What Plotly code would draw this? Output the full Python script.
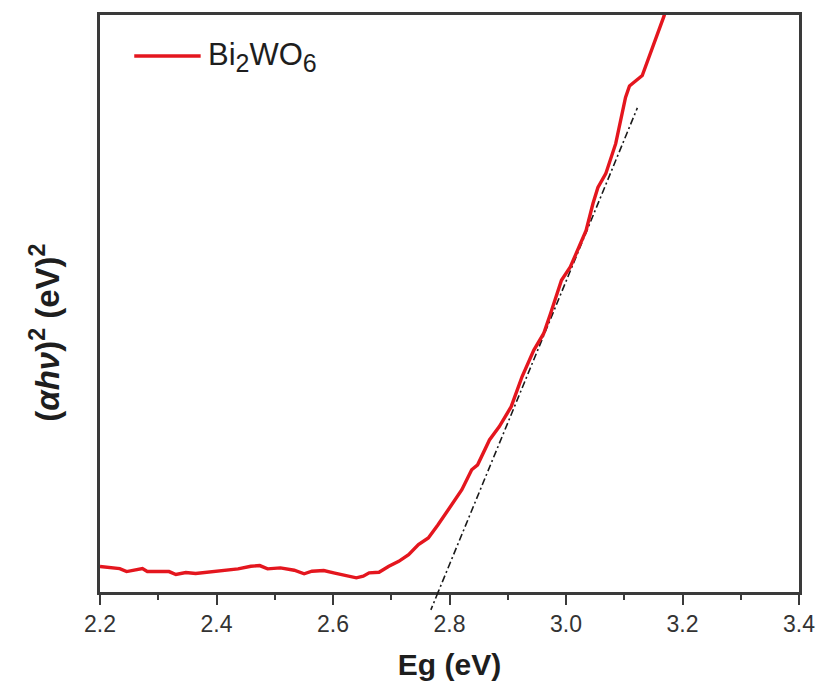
import plotly.graph_objects as go

# ---------------- data ----------------
energy_ev = [2.2000, 2.2339, 2.2457, 2.2626, 2.2728, 2.2812, 2.3185, 2.3303, 2.3473, 2.3642,
             2.3811, 2.4031, 2.4370, 2.4590, 2.4742, 2.4877, 2.5097, 2.5334, 2.5504, 2.5639,
             2.5842, 2.6011, 2.6198, 2.6401, 2.6519, 2.6621, 2.6790, 2.6959, 2.7129, 2.7298,
             2.7467, 2.7636, 2.7800, 2.7975, 2.8212, 2.8381, 2.8483, 2.8686, 2.8855, 2.9059,
             2.9245, 2.9448, 2.9617, 2.9735, 2.9922, 3.0074, 3.0345, 3.0463, 3.0548, 3.0683,
             3.0853, 3.1022, 3.1090, 3.1309, 3.1597, 3.1682, 3.1760]
absorb_sq = [4.41, 4.06, 3.54, 3.89, 4.06, 3.54, 3.54, 3.03, 3.37, 3.20,
             3.37, 3.60, 4.01, 4.46, 4.58, 4.01, 4.18, 3.77, 3.15, 3.60,
             3.72, 3.32, 2.85, 2.45, 2.73, 3.32, 3.42, 4.46, 5.32, 6.48,
             8.21, 9.37, 11.6, 14.26, 17.72, 21.18, 22.04, 26.36, 28.66, 32.12,
             37.30, 41.92, 44.81, 48.26, 54.02, 56.32, 62.66, 67.33, 70.10, 72.50,
             77.70, 85.70, 87.70, 89.50, 97.20, 99.80, 102.5]

# Tauc tangent line: x-intercept (band gap) and slope, end point of drawn segment
eg_intercept = 2.7806
tangent_slope = 245.4
tangent_end_x = 3.1225
tangent_ext_y = -3.1   # how far the dash-dot line extends below the axis (data units)

series_name = "Bi<sub><span style='font-size:25px'>2</span></sub>WO<sub><span style='font-size:25px'>6</span></sub>"
x_title = "Eg (eV)"
y_title = "(<i>αhν</i>)<sup>2</sup> (eV)<sup>2</sup>"
x_ticks = [2.2, 2.4, 2.6, 2.8, 3.0, 3.2, 3.4]
x_range = [2.2, 3.4]
y_range = [0, 100]

# ---------------- figure ----------------
font_family = "Arial, 'Liberation Sans', Helvetica, sans-serif"
axis_color = "#3a3a3a"
red = "#e4161e"

tan_x = [eg_intercept + tangent_ext_y / tangent_slope, tangent_end_x]
tan_y = [tangent_ext_y, (tangent_end_x - eg_intercept) * tangent_slope]

fig = go.Figure()
fig.add_trace(go.Scatter(
    x=tan_x, y=tan_y, mode="lines",
    line=dict(color="#1a1a1a", width=1.6, dash="7px,3px,2px,3px"),
    showlegend=False, hoverinfo="skip"))
fig.add_trace(go.Scatter(
    x=energy_ev, y=absorb_sq, mode="lines", name="Bi2WO6",
    line=dict(color=red, width=3.4, shape="linear"),
    showlegend=False))

# small extension of the tangent below the x axis (x in data, y in paper units)
y_span = y_range[1] - y_range[0]
fig.add_shape(type="line", xref="x", yref="paper",
              x0=eg_intercept, y0=(0 - y_range[0]) / y_span,
              x1=tan_x[0], y1=(tangent_ext_y - y_range[0]) / y_span,
              line=dict(color="#1a1a1a", width=1.6, dash="7px,3px,2px,3px"),
              layer="above")

# legend (line sample + label)
fig.add_shape(type="line", xref="paper", yref="paper",
              x0=0.049, x1=0.144, y0=0.929, y1=0.929,
              line=dict(color=red, width=3.4))
fig.add_annotation(xref="paper", yref="paper", x=0.152, y=0.927,
                   xanchor="left", yanchor="middle", showarrow=False,
                   text=series_name, font=dict(family=font_family, size=31, color="#1e1e1e"))

# y-axis title
fig.add_annotation(xref="paper", yref="paper", x=-0.078, y=0.45,
                   xanchor="center", yanchor="middle", showarrow=False, textangle=-90,
                   text="<b>" + y_title + "</b>",
                   font=dict(family=font_family, size=33, color="#1e1e1e"))

fig.update_layout(
    width=827, height=688,
    margin=dict(l=100, r=18, t=14, b=96),
    paper_bgcolor="white", plot_bgcolor="white",
    font=dict(family=font_family, color="#2a2a2a"),
    showlegend=False,
)
fig.update_xaxes(
    range=x_range, tickmode="array", tickvals=x_ticks,
    ticktext=[f"{v:.1f}" for v in x_ticks],
    ticks="outside", ticklen=10, tickwidth=2, tickcolor=axis_color,
    minor=dict(dtick=0.1, tick0=2.2, ticks="outside", ticklen=5, tickwidth=2, tickcolor=axis_color),
    showline=True, linewidth=2.5, linecolor=axis_color, mirror=True,
    showgrid=False, zeroline=False,
    tickfont=dict(size=23, color="#333333"),
    title=dict(text="<b>" + x_title + "</b>", font=dict(size=30, color="#1e1e1e"), standoff=18),
)
fig.update_yaxes(
    range=y_range, showticklabels=False, ticks="",
    showline=True, linewidth=2.5, linecolor=axis_color, mirror=True,
    showgrid=False, zeroline=False,
)

fig.write_html("out.html")
